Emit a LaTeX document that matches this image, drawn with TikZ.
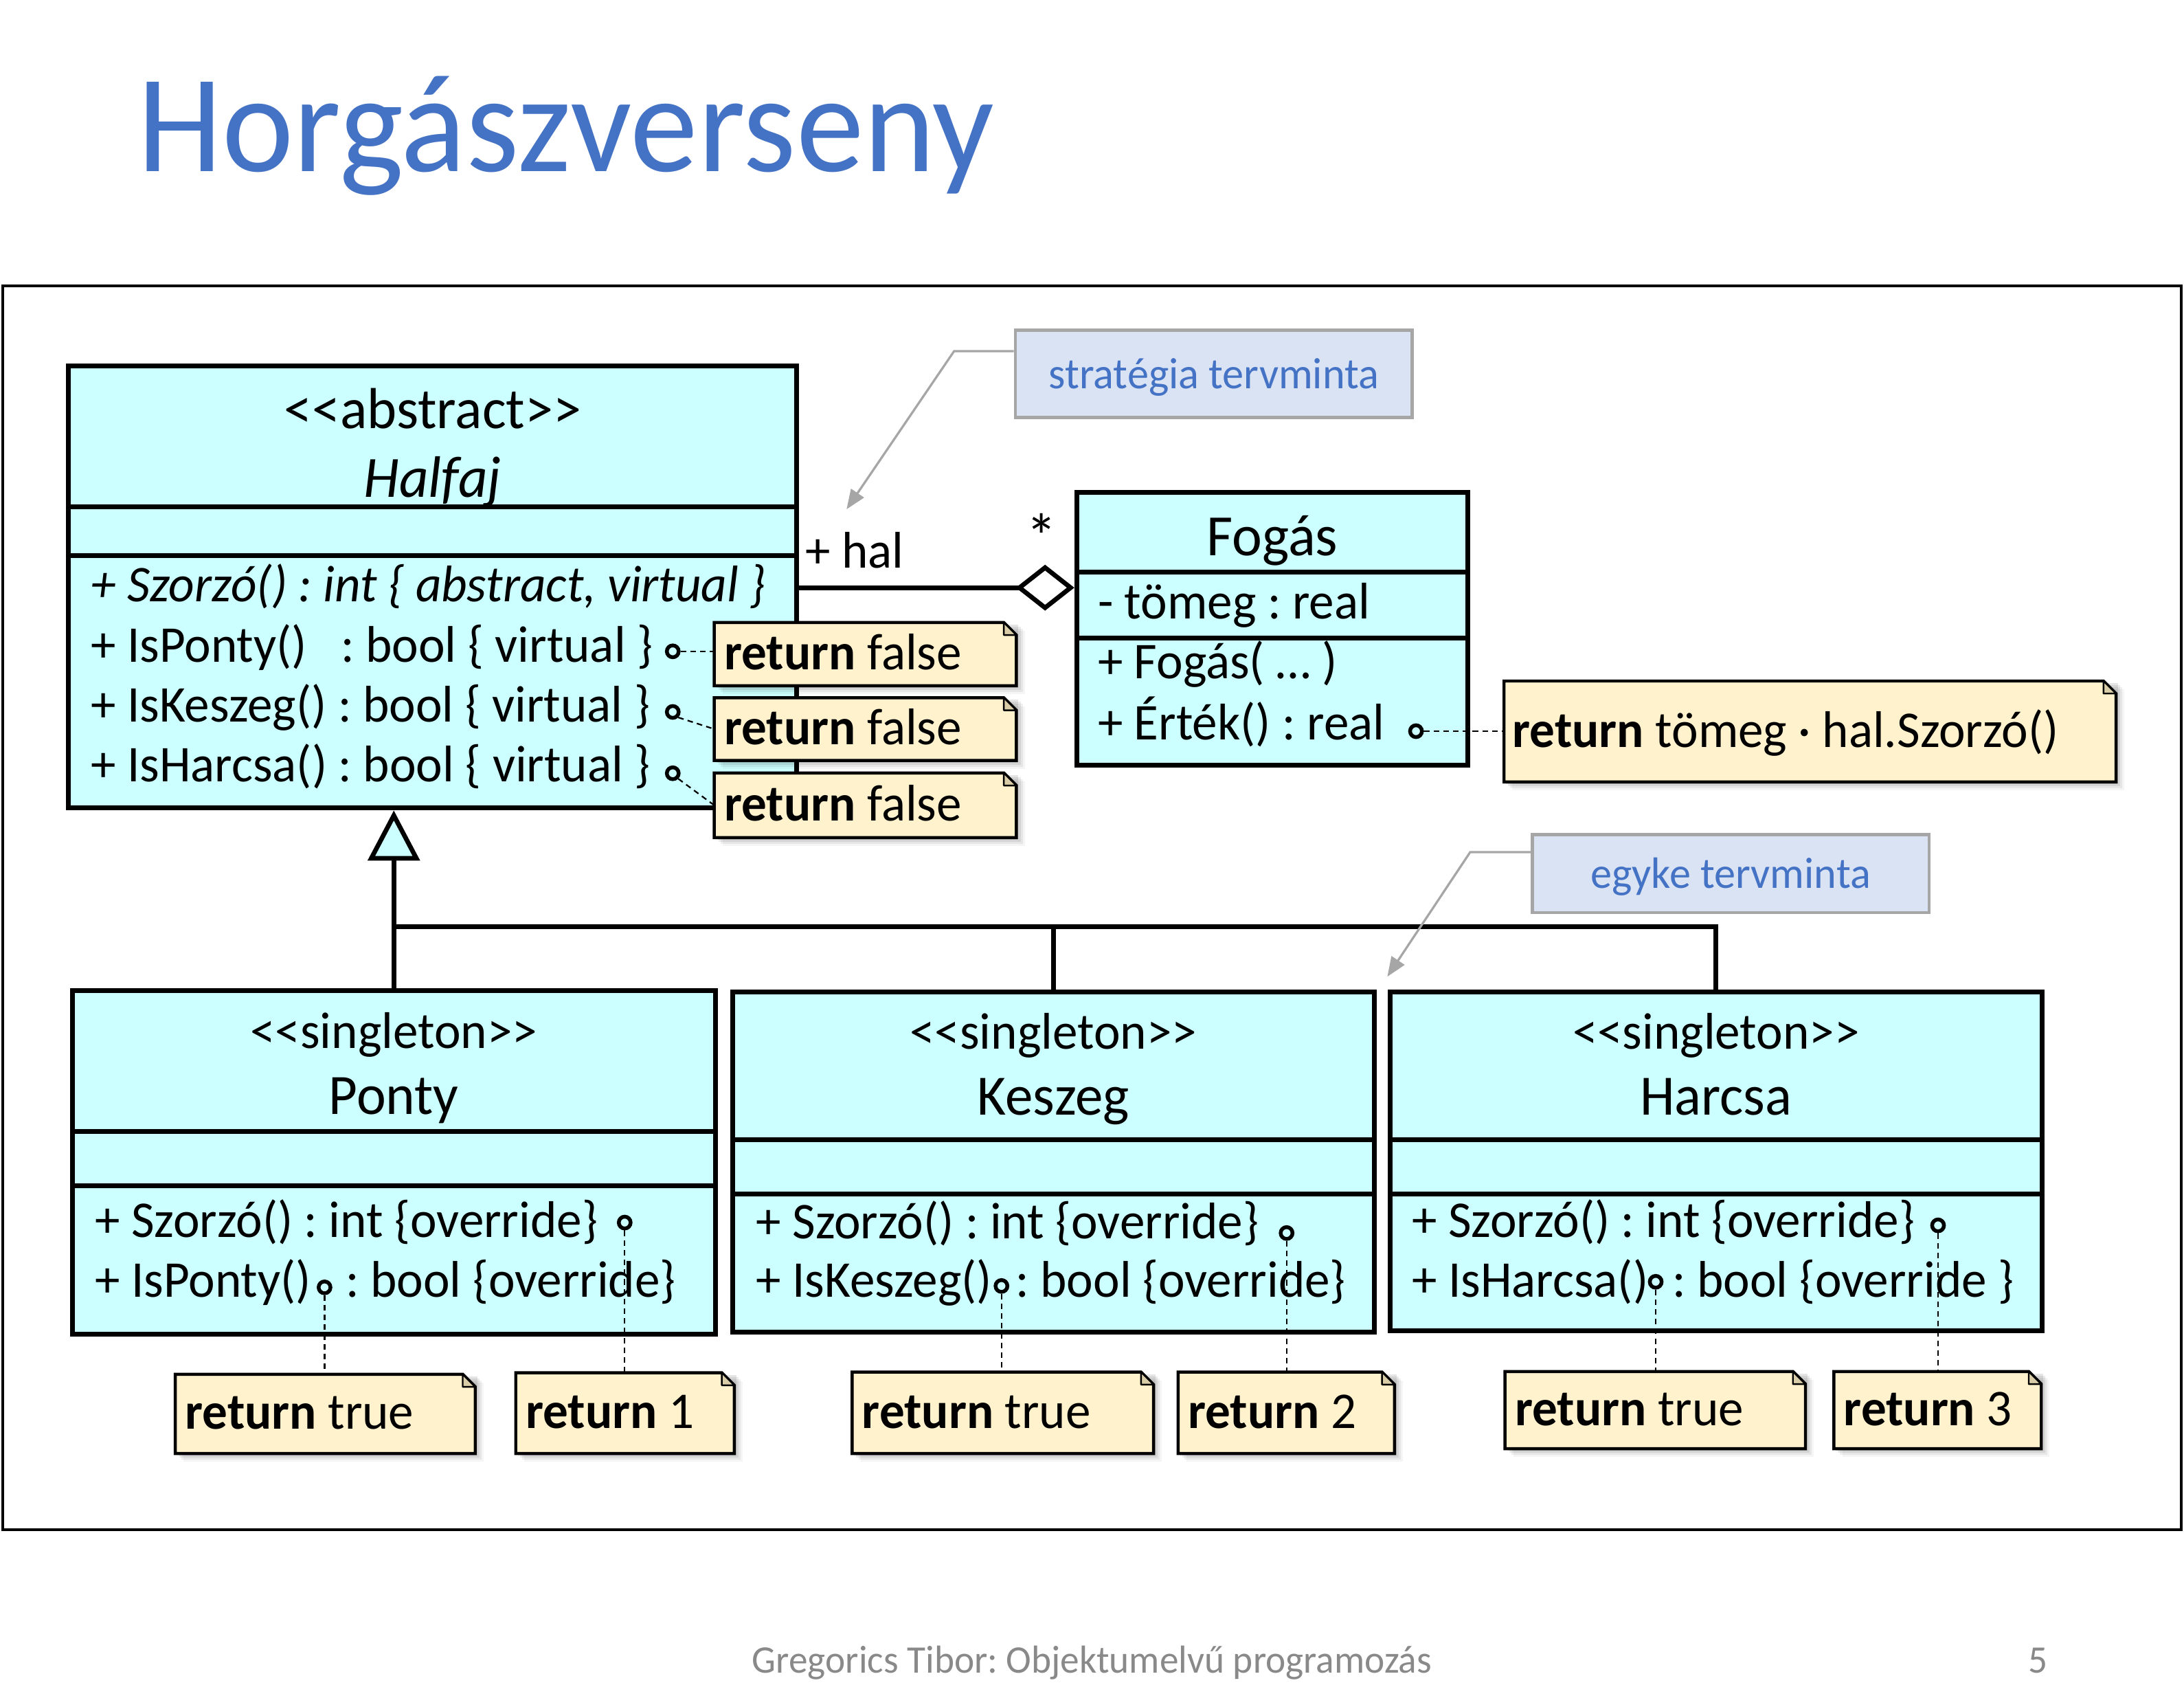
\documentclass[tikz,border=0pt]{standalone}
\usepackage{fontspec}
\setmainfont{Carlito}[FakeStretch=0.975, Ligatures=TeXOff]
\usetikzlibrary{arrows.meta,fit,calc}
\frenchspacing

\definecolor{classfill}{HTML}{CCFFFF}
\definecolor{notefill}{HTML}{FFF2CC}
\definecolor{foldfill}{HTML}{D9CDA8}
\definecolor{callfill}{HTML}{DAE3F3}
\definecolor{callline}{HTML}{A6A6A6}
\definecolor{titleblue}{HTML}{4472C4}
\definecolor{footgray}{HTML}{898989}

\newcommand\fsz[1]{\fontsize{#1}{#1}\selectfont}

\tikzset{
  umlclass/.style={inner sep=0pt, draw, line width=3.4pt, fill=classfill},
  divider/.style={line width=3.4pt},
  conn/.style={line width=3.3pt, line join=miter},
  txt/.style={inner sep=0pt, font=\fsz{37}},
  mtxt/.style={txt, anchor=base west},
  htxt/.style={txt, anchor=base},
  nametxt/.style={inner sep=0pt, anchor=base, font=\fsz{41}},
  notetxt/.style={txt, anchor=base west},
  port/.style={circle, draw, line width=2.7pt, fill=classfill, minimum size=8.5pt, inner sep=0pt},
  notegeom/.style={inner sep=0pt, draw=none},
  noteline/.style={draw, line width=2.2pt, fill=notefill},
  dashline/.style={line width=1.1pt, dash pattern=on 4pt off 3pt},
  callout/.style={inner sep=0pt, draw=callline, line width=2.4pt, fill=callfill},
  calltxt/.style={inner sep=0pt, anchor=base, text=titleblue, font=\fsz{31.5}},
  callarrow/.style={draw=callline, line width=1.6pt, -{Triangle[length=14pt,width=11pt]}},
}

% UML note with a folded corner and a soft shadow
\newcommand\umlnote[5]{%
  \node[notegeom, fit={(#2,#3) (#4,#5)}] (#1) {};
  \foreach \s/\o in {1.5/0.10, 3/0.08, 4.5/0.06, 6/0.04}
    \fill[black, opacity=\o] ([xshift=\s pt, yshift=-\s pt]#1.north west) rectangle ([xshift=\s pt, yshift=-\s pt]#1.south east);
  \path[noteline] (#1.north west) -- ([xshift=-9pt]#1.north east) -- ([yshift=-9pt]#1.north east) -- (#1.south east) -- (#1.south west) -- cycle;
  \filldraw[line width=1.2pt, fill=foldfill, line join=round] ([xshift=-9pt]#1.north east) -- ([xshift=-9pt,yshift=-9pt]#1.north east) -- ([yshift=-9pt]#1.north east) -- cycle;
}

\begin{document}
\begin{tikzpicture}[x=1pt,y=-1pt]
\useasboundingbox (0,0) rectangle (1568,1225);
\fill[white] (0,0) rectangle (1568,1225);

% title and footer
\node[anchor=base west, inner sep=0pt, text=titleblue, font=\fsz{100}] (title) at (98.7,123.3) {Horgászverseny};
\node[anchor=base, inner sep=0pt, text=footgray, font=\fsz{28}] (footer) at (784,1201) {Gregorics Tibor: Objektumelvű programozás};
\node[anchor=base, inner sep=0pt, text=footgray, font=\fsz{28}] (pagenum) at (1463,1201) {5};

% frame
\draw[line width=2pt] (2,205) rectangle (1566,1098);

% ---------- classes ----------
\node[umlclass, fit={(49.2,262.5) (572,580)}] (halfaj) {};
\draw[divider] (halfaj.west |- 0,363.6) -- (halfaj.east |- 0,363.6);
\draw[divider] (halfaj.west |- 0,398.8) -- (halfaj.east |- 0,398.8);
\node[nametxt, font=\fsz{41.5}] (halfajst) at (310.6,307.6) {<<abstract>>};
\node[nametxt, font=\fsz{42}] (halfajname) at (310.6,357) {\textit{Halfaj}};
\node[mtxt] (hm1) at (65,432) {\textit{+ Szorzó() : int \{ abstract, virtual \}}};
\node[mtxt] (hm2) at (65,475) {+ IsPonty()\ \ \ : bool \{ virtual \}};
\node[mtxt] (hm3) at (65,518) {+ IsKeszeg() : bool \{ virtual \}};
\node[mtxt] (hm4) at (65,561) {+ IsHarcsa() : bool \{ virtual \}};

\node[umlclass, fit={(773,353.5) (1054,549)}] (fogas) {};
\draw[divider] (fogas.west |- 0,410.7) -- (fogas.east |- 0,410.7);
\draw[divider] (fogas.west |- 0,458) -- (fogas.east |- 0,458);
\node[nametxt, font=\fsz{42}] (fogasname) at (913.5,399) {Fogás};
\node[mtxt] (fa1) at (788,444) {- tömeg : real};
\node[mtxt] (fm1) at (788,487) {+ Fogás( … )};
\node[mtxt] (fm2) at (788,531) {+ Érték() : real};

\node[umlclass, fit={(52,711) (513.5,957.5)}] (ponty) {};
\draw[divider] (ponty.west |- 0,812) -- (ponty.east |- 0,812);
\draw[divider] (ponty.west |- 0,851) -- (ponty.east |- 0,851);
\node[htxt] (pontyst) at (282.75,752.4) {<<singleton>>};
\node[nametxt] (pontyname) at (282.75,800) {Ponty};
\node[mtxt] (pm1) at (68,888) {+ Szorzó() : int \{override\}};
\node[mtxt] (pm2) at (68,931) {+ IsPonty()};
\node[mtxt] (pm2b) at (248,931) {: bool \{override\}};

\node[umlclass, fit={(526,712) (986.5,956)}] (keszeg) {};
\draw[divider] (keszeg.west |- 0,818) -- (keszeg.east |- 0,818);
\draw[divider] (keszeg.west |- 0,857) -- (keszeg.east |- 0,857);
\node[htxt] (keszegst) at (756.25,753) {<<singleton>>};
\node[nametxt] (keszegname) at (756.25,800.5) {Keszeg};
\node[mtxt] (km1) at (542.6,889) {+ Szorzó() : int \{override\}};
\node[mtxt] (km2) at (542.6,931) {+ IsKeszeg()};
\node[mtxt] (km2b) at (729,931) {: bool \{override\}};

\node[umlclass, fit={(998,712) (1466,955)}] (harcsa) {};
\draw[divider] (harcsa.west |- 0,818) -- (harcsa.east |- 0,818);
\draw[divider] (harcsa.west |- 0,857) -- (harcsa.east |- 0,857);
\node[htxt] (harcsast) at (1232,752.7) {<<singleton>>};
\node[nametxt] (harcsaname) at (1232,800.5) {Harcsa};
\node[mtxt] (rm1) at (1013.5,888) {+ Szorzó() : int \{override\}};
\node[mtxt] (rm2) at (1013.5,931) {+ IsHarcsa()};
\node[mtxt] (rm2b) at (1200.5,931) {: bool \{override \}};

% ---------- relations ----------
\coordinate (genbar) at (283,665);
\draw[conn] (ponty.north) -- (ponty.north |- genbar) -- (harcsa.north |- genbar) -- (harcsa.north);
\draw[conn] (keszeg.north) -- (keszeg.north |- genbar);
\draw[conn, -{Triangle[length=36pt,width=37pt,fill=classfill]}] (ponty.north |- genbar) -- (ponty.north |- halfaj.south);

\draw[conn, -{Diamond[length=42pt,width=33pt,fill=white]}] (halfaj.east |- 0,421.8) -- (fogas.west |- 0,421.8);
\node[mtxt] (hallabel) at (578,407.5) {+ hal};
\node[inner sep=0pt, anchor=base, font=\fsz{46}] (multlabel) at (748,401) {*};

% ---------- notes ----------
\umlnote{nf1}{513}{447}{729.5}{492}
\umlnote{nf2}{513}{501}{729.5}{545.6}
\umlnote{nf3}{513}{555}{729.5}{601}
\umlnote{nval}{1080}{489}{1519}{561}
\umlnote{npt}{126}{986.6}{341}{1043}
\umlnote{np1}{370.5}{985.5}{527}{1043}
\umlnote{nkt}{612}{985}{828}{1043}
\umlnote{nk2}{846}{985}{1001}{1043}
\umlnote{nht}{1080.7}{984.6}{1296}{1039.6}
\umlnote{nh3}{1316.8}{984.6}{1465.3}{1039.6}

\node[notetxt] (nf1t) at ([xshift=7pt,yshift=-11pt]nf1.west) {\textbf{return} false};
\node[notetxt] (nf2t) at ([xshift=7pt,yshift=-11pt]nf2.west) {\textbf{return} false};
\node[notetxt] (nf3t) at ([xshift=7pt,yshift=-11pt]nf3.west) {\textbf{return} false};
\node[notetxt] (nvalt) at ([xshift=6pt,yshift=-11.5pt]nval.west) {\textbf{return} tömeg · hal.Szorzó()};
\node[notetxt] (nptt) at ([xshift=7pt,yshift=-11pt]npt.west) {\textbf{return} true};
\node[notetxt] (np1t) at ([xshift=7pt,yshift=-11pt]np1.west) {\textbf{return} 1};
\node[notetxt] (nktt) at ([xshift=7pt,yshift=-11pt]nkt.west) {\textbf{return} true};
\node[notetxt] (nk2t) at ([xshift=7pt,yshift=-11pt]nk2.west) {\textbf{return} 2};
\node[notetxt] (nhtt) at ([xshift=7pt,yshift=-11pt]nht.west) {\textbf{return} true};
\node[notetxt] (nh3t) at ([xshift=7pt,yshift=-11pt]nh3.west) {\textbf{return} 3};

% ---------- operation ports and note links ----------
\node[port] (hc1) at (483,467.5) {};
\node[port] (hc2) at (483,511) {};
\node[port] (hc3) at (483,555) {};
\node[port] (fc1) at (1016.6,524.8) {};
\node[port] (pc1) at (448.5,877.5) {};
\node[port] (pc2) at (233,924) {};
\node[port] (kc1) at (923.7,885) {};
\node[port] (kc2) at (719,923) {};
\node[port] (rc1) at (1391.4,879.5) {};
\node[port] (rc2) at (1188.7,920) {};

\draw[dashline] (hc1.east) -- (hc1.east -| nf1.west);
\draw[dashline] (hc2.south east) -- (nf2.west);
\draw[dashline] (hc3.south east) -- (nf3.west);
\draw[dashline] (fc1.east) -- (fc1.east -| nval.west);
\draw[dashline] (pc1.south) -- (pc1.south |- np1.north);
\draw[dashline] (pc2.south) -- (pc2.south |- npt.north);
\draw[dashline] (kc1.south) -- (kc1.south |- nk2.north);
\draw[dashline] (kc2.south) -- (kc2.south |- nkt.north);
\draw[dashline] (rc1.south) -- (rc1.south |- nh3.north);
\draw[dashline] (rc2.south) -- (rc2.south |- nht.north);

% ---------- design pattern callouts ----------
\node[callout, fit={(729,237) (1014,299.6)}] (strat) {};
\node[calltxt] (strattxt) at (871.5,278.7) {stratégia tervminta};
\coordinate (sbend) at (685,252);
\coordinate (stip) at (607.8,365.5);
\draw[callarrow] (strat.west |- sbend) -- (sbend) -- (stip);

\node[callout, fit={(1100,599) (1385,655)}] (egyke) {};
\node[calltxt] (egyketxt) at (1242.5,637.6) {egyke tervminta};
\coordinate (ebend) at (1055.5,611.6);
\coordinate (etip) at (996,701);
\draw[callarrow] (egyke.west |- ebend) -- (ebend) -- (etip);
\end{tikzpicture}
\end{document}
